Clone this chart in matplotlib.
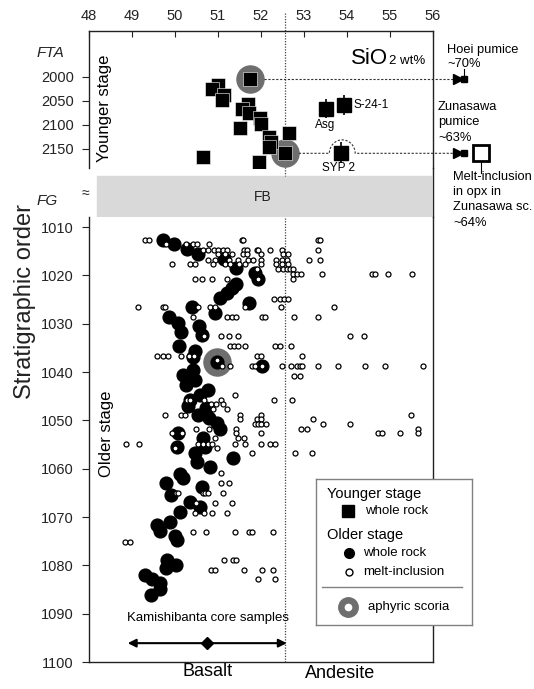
import numpy as np
import matplotlib
matplotlib.use("Agg")
import matplotlib.pyplot as plt
from matplotlib.lines import Line2D
from matplotlib.patches import Rectangle

plt.rcParams['font.family'] = ['Liberation Sans', 'DejaVu Sans']

W, H = 534, 689
def fx(x): return x / W
def fy(y): return 1 - y / H

INK = "#222222"
GREY = "#6e6e6e"
BOUNDARY = 52.56

# ---- younger stage (FTA), whole rock
young_sio2 = [51.74, 50.99, 50.86, 51.13, 51.09, 51.70, 51.56, 51.73, 51.97, 51.99,
              51.51, 52.18, 52.65, 52.24, 52.18, 52.56, 50.65, 51.96]
young_order = [2004, 2017, 2026, 2037, 2048, 2056, 2067, 2076, 2086, 2097,
               2107, 2124, 2117, 2135, 2145, 2158, 2167, 2178]
young_aphyric_sio2 = [51.74, 52.56]
young_aphyric_order = [2004, 2158]
named_names = ["Asg", "S-24-1", "SYP 2"]
named_sio2 = [53.52, 53.92, 53.86]
named_order = [2066, 2058, 2158]
named_err = [20, 21, 22]

# ---- older stage (FG), whole rock
old_sio2 = [49.71, 49.98, 50.27, 50.54, 51.14, 51.43, 51.85, 51.94, 51.43, 51.32,
            51.22, 51.05, 51.72, 50.39, 50.94, 49.86, 50.08, 50.56, 50.15, 50.63,
            50.10, 50.47, 50.42, 50.97, 52.03, 50.42, 50.19, 50.47, 50.25, 50.77,
            50.58, 50.35, 50.31, 50.73, 50.54, 50.80, 50.97, 51.05, 50.08, 50.66,
            50.05, 50.70, 51.36, 50.47, 50.50, 50.81, 50.12, 50.19, 49.79, 50.62,
            49.91, 50.35, 50.58, 50.12, 49.88, 49.57, 49.65, 50.00, 50.04, 49.81,
            50.02, 49.79, 49.30, 49.46, 49.65, 49.65, 49.44]
old_order = [1012.7, 1013.5, 1014.6, 1015.6, 1016.6, 1018.5, 1019.5, 1020.8, 1021.8, 1022.5,
             1023.6, 1024.6, 1025.8, 1026.5, 1027.7, 1028.6, 1029.8, 1030.4, 1031.7, 1032.3,
             1034.6, 1035.6, 1036.8, 1037.9, 1038.8, 1039.6, 1040.6, 1041.7, 1042.7, 1043.7,
             1044.8, 1045.8, 1047.0, 1047.5, 1048.9, 1049.6, 1050.6, 1051.8, 1052.7, 1053.7,
             1055.6, 1055.6, 1057.7, 1056.8, 1058.7, 1059.7, 1061.0, 1062.0, 1062.9, 1063.7,
             1065.4, 1066.8, 1067.9, 1068.9, 1071.0, 1071.6, 1072.8, 1073.9, 1074.8, 1078.8,
             1079.9, 1080.6, 1082.0, 1082.9, 1083.7, 1084.8, 1086.1]
old_aphyric_sio2 = [50.97]
old_aphyric_order = [1037.9]

# ---- older stage, melt inclusions
melt_sio2 = [
    49.30, 49.40, 51.55, 51.59, 53.33, 53.37,
    49.79, 50.25, 50.42, 50.52, 50.80,
    50.66, 50.77, 50.91, 51.01, 51.11, 51.20, 51.60, 51.67, 51.90, 51.94, 52.21, 52.48, 53.33,
    51.01, 51.16, 51.32, 51.57, 51.67, 51.99, 52.50, 52.63,
    50.77, 50.93, 51.26, 51.47, 51.70, 51.82, 52.01, 52.36, 52.48, 52.60, 53.12, 53.37,
    49.92, 50.35, 50.47, 50.89, 51.16, 51.28, 51.49, 51.63, 52.01, 52.36, 52.48, 52.63,
    51.90, 52.40, 52.50, 52.60, 52.67, 52.75,
    52.75, 52.84, 52.94, 53.43, 54.57, 54.65, 54.96, 55.50,
    50.47, 50.62, 50.87, 51.20, 51.94, 52.75,
    52.31, 52.44, 52.53, 52.63,
    49.13, 49.71, 49.77, 50.54, 50.81, 50.93, 51.63, 52.46, 53.70,
    50.42, 51.20, 51.32, 51.43, 52.03, 52.09, 52.77, 53.33,
    51.07, 51.26, 51.46, 54.08, 54.40, 50.68,
    51.28, 51.37, 51.47, 51.63, 52.33, 52.44, 52.69,
    49.59, 49.71, 49.83, 50.13, 50.33, 50.44, 51.91, 51.99, 52.96,
    50.98, 51.10, 51.28, 51.78, 51.86, 52.03, 52.48, 52.69, 52.84, 52.91, 52.96, 53.33, 53.80,
    54.42, 54.88, 55.76,
    52.77, 52.91,
    51.40,
    50.27, 50.35, 50.68, 51.08, 52.30, 52.73,
    50.84, 50.95, 51.12,
    50.89, 51.20,
    49.77, 50.13, 50.23, 51.50, 52.01, 55.49,
    51.50, 51.91, 51.99, 53.20,
    51.86, 51.94, 52.01, 52.11, 53.44, 54.07,
    50.49, 50.80, 51.41, 52.92, 53.08, 55.64,
    49.92, 50.17, 51.41, 52.01, 54.71, 54.81, 55.23, 55.64,
    50.93, 51.47, 51.60,
    48.86, 49.17, 50.54, 50.66, 50.77, 50.87, 51.40, 51.63, 52.01, 52.21, 52.33,
    50.00, 50.97,
    51.80, 52.80, 53.19,
    51.08,
    51.07, 51.26,
    50.02, 50.08, 50.64, 50.70, 50.77, 51.11,
    50.49, 50.93, 51.32,
    50.47, 50.67, 50.87, 51.20,
    50.41, 50.72, 51.40, 51.73, 51.80, 52.27,
    48.84, 48.95,
    51.14, 51.34, 51.43,
    50.83, 50.93, 51.60, 52.03, 52.27,
    51.94, 52.33,
]
melt_order = (
    [1012.7] * 6 + [1013.5] * 5 + [1014.8] * 13 + [1015.6] * 8 + [1016.7] * 12
    + [1017.7] * 12 + [1018.7] * 6 + [1019.6] * 8 + [1020.8] * 6 + [1024.8] * 4
    + [1026.6] * 9 + [1028.6] * 8 + [1032.6] * 6 + [1034.6] * 7 + [1036.7] * 9
    + [1037.4, 1038.8] + [1038.8] * 14 + [1040.8] * 2 + [1044.8] * 1
    + [1045.8] * 6 + [1046.5] * 3 + [1047.7] * 2 + [1048.9] * 6 + [1049.8] * 4
    + [1050.8] * 6 + [1051.8] * 6 + [1052.7] * 8 + [1053.7] * 3 + [1054.8] * 11
    + [1055.8] * 2 + [1056.8] * 3 + [1060.8] * 1 + [1062.9] * 2 + [1065.0] * 6
    + [1067.1] * 3 + [1069.1] * 4 + [1073.1] * 6 + [1075.1] * 2 + [1078.9] * 3
    + [1081.0] * 5 + [1082.9] * 2
)

fig = plt.figure(figsize=(W / 100, H / 100), dpi=100)

# upper panel: younger stage
ax1 = fig.add_axes([fx(89), fy(168), fx(433) - fx(89), (168 - 31) / H])
ax1.set_xlim(48, 56)
ax1.set_ylim(2189.6, 1904.2)
ax1.spines["bottom"].set_visible(False)
ax1.xaxis.tick_top()
ax1.set_xticks(range(48, 57))
ax1.tick_params(axis="x", direction="in", length=4, labelsize=10.5, pad=6, colors=INK)
ax1.set_yticks([2000, 2050, 2100, 2150])
ax1.tick_params(axis="y", direction="out", length=5, labelsize=10.5, pad=6, colors=INK)

# lower panel: older stage
ax2 = fig.add_axes([fx(89), fy(662), fx(433) - fx(89), (662 - 217) / H])
ax2.set_xlim(48, 56)
ax2.set_ylim(1100, 1007.9)
ax2.spines["top"].set_visible(False)
ax2.set_xticks([])
ax2.set_yticks(range(1010, 1101, 10))
ax2.tick_params(axis="y", direction="out", length=5, labelsize=10.5, pad=6, colors=INK)

for a in (ax1, ax2):
    for s in a.spines.values():
        s.set_color(INK)
        s.set_linewidth(1.0)

# continuous right edge through the FB gap, and the FB band
fig.add_artist(Line2D([fx(433)] * 2, [fy(168), fy(217)], color=INK, lw=1.0))
fig.add_artist(Rectangle((fx(97), fy(217)), fx(431) - fx(97), (217 - 176) / H,
                         transform=fig.transFigure, color="#d9d9d9", zorder=0))
fig.text(fx(263), fy(197), "FB", fontsize=10, ha="center", va="center", color=INK)

# basalt / andesite boundary
dot = (0, (1, 1.2))
ax1.plot([BOUNDARY] * 2, [1866, 2206], ls=dot, lw=0.9, color="#444444", clip_on=False, zorder=1)
ax2.axvline(BOUNDARY, ls=dot, lw=0.9, color="#444444", zorder=1)

# younger stage marks
ax1.plot(young_aphyric_sio2, young_aphyric_order, "o", ms=19.5, color=GREY, zorder=2)
ax1.plot(young_sio2, young_order, "s", ms=9.8, color="black", mec="white", mew=0.4, zorder=3)
ax1.errorbar(named_sio2, named_order, yerr=named_err, fmt="s", ms=9.8, color="black",
             elinewidth=1.2, capsize=0, zorder=3)
ax1.text(named_sio2[0] - 0.04, 2100, named_names[0], fontsize=8.5, ha="center", va="center")
ax1.text(named_sio2[1] + 0.22, named_order[1], named_names[1], fontsize=8.5, ha="left", va="center")
ax1.text(named_sio2[2] - 0.05, 2190, named_names[2], fontsize=8.5, ha="center", va="center",
         clip_on=False)

# Hoei pumice link
ax1.plot([52.06, 56.52], [2004, 2004], ls=(0, (2, 1.5)), lw=0.8, color="#333333", clip_on=False)
ax1.plot([56.58], [2004], ">", ms=7, color="black", clip_on=False)
ax1.plot([56.72], [2004], "s", ms=5, color="black", clip_on=False)
ax1.plot([56.72, 56.72], [1983, 1998], lw=0.8, color="black", clip_on=False)

# Zunasawa pumice link with a bump over SYP 2
t = np.linspace(0, np.pi, 40)
bump_x = 53.89 - 0.30 * np.cos(t)
bump_y = 2159 - 28 * np.sin(t)
zx = np.concatenate([[52.88, 53.59], bump_x, [54.19, 56.52]])
zy = np.concatenate([[2159, 2159], bump_y, [2159, 2159]])
ax1.plot(zx, zy, ls=(0, (2, 1.5)), lw=0.8, color="#333333", clip_on=False)
ax1.plot([56.58], [2159], ">", ms=7, color="black", clip_on=False)
ax1.plot([56.72], [2159], "s", ms=5, color="black", clip_on=False)
ax1.plot([57.12], [2159], "s", ms=11.5, mfc="white", mec="black", mew=2, clip_on=False)
ax1.plot([57.12, 57.12], [2177, 2199], lw=0.8, color="black", clip_on=False)

# older stage marks
ax2.plot(old_aphyric_sio2, old_aphyric_order, "o", ms=19.5, color=GREY, zorder=2)
ax2.plot(old_sio2, old_order, "o", ms=9.2, color="black", zorder=3)
ax2.plot(melt_sio2, melt_order, "o", ms=3.6, mfc="white", mec="black", mew=0.9, zorder=4)

# Kamishibanta core samples
ax2.annotate("", xy=(48.9, 1096.1), xytext=(52.6, 1096.1),
             arrowprops=dict(arrowstyle="<|-|>", lw=1.5, color="black", mutation_scale=12,
                             shrinkA=0, shrinkB=0))
ax2.plot([50.75], [1096.1], "D", ms=6, color="black", zorder=5)
ax2.text(50.77, 1090.9, "Kamishibanta core samples", fontsize=9.5, ha="center", va="center")

# axis texts
fig.text(fx(50), fy(53), "FTA", fontsize=11, style="italic", ha="center", va="center", color=INK)
fig.text(fx(47), fy(201), "FG", fontsize=11, style="italic", ha="center", va="center", color=INK)
fig.text(fx(85), fy(193), "≈", fontsize=10, ha="center", va="center", color=INK)
fig.text(fx(25), fy(301), "Stratigraphic order", fontsize=17, rotation=90,
         ha="center", va="center", color=INK)
fig.text(fx(104), fy(108), "Younger stage", fontsize=12, rotation=90, ha="center", va="center")
fig.text(fx(106), fy(434), "Older stage", fontsize=12, rotation=90, ha="center", va="center")
fig.text(fx(388), fy(64), "SiO", fontsize=16, ha="right", va="baseline")
fig.text(fx(389), fy(64), "2 wt%", fontsize=9.5, ha="left", va="baseline")
fig.text(fx(208), fy(672), "Basalt", fontsize=13, ha="center", va="center")
fig.text(fx(340), fy(673), "Andesite", fontsize=13, ha="center", va="center")

# right-hand notes
notes = [(447, 50, "Hoei pumice"), (447, 64, "~70%"),
         (438, 107, "Zunasawa"), (438, 122, "pumice"), (438, 138, "~63%"),
         (453, 177, "Melt-inclusion"), (453, 192, "in opx in"),
         (453, 207, "Zunasawa sc."), (453, 223, "~64%")]
for x, y, s in notes:
    fig.text(fx(x), fy(y), s, fontsize=9.3, ha="left", va="center")

# legend box
lg = fig.add_axes([fx(316), fy(625), fx(472) - fx(316), (625 - 479) / H])
lg.set_zorder(6)
lg.set_xlim(316, 472)
lg.set_ylim(625, 479)
lg.set_xticks([]); lg.set_yticks([])
for s in lg.spines.values():
    s.set_color("#808080")
    s.set_linewidth(1.0)
lg.text(327, 494, "Younger stage", fontsize=10.5, va="center")
lg.plot([348], [511], "s", ms=8.5, color="black")
lg.text(365, 511, "whole rock", fontsize=9.5, va="center")
lg.text(327, 535, "Older stage", fontsize=10.5, va="center")
lg.plot([349], [553], "o", ms=7, color="black")
lg.text(363, 553, "whole rock", fontsize=9.5, va="center")
lg.plot([349], [572], "o", ms=5, mfc="white", mec="black", mew=1.0)
lg.text(363, 572, "melt-inclusion", fontsize=9.5, va="center")
lg.plot([322, 462], [587, 587], color="#808080", lw=1.0)
lg.plot([348], [607], "o", ms=14, color=GREY)
lg.plot([348], [607], "o", ms=4.5, color="white")
lg.text(368, 607, "aphyric scoria", fontsize=9.5, va="center")

fig.savefig("out.png", dpi=100)
